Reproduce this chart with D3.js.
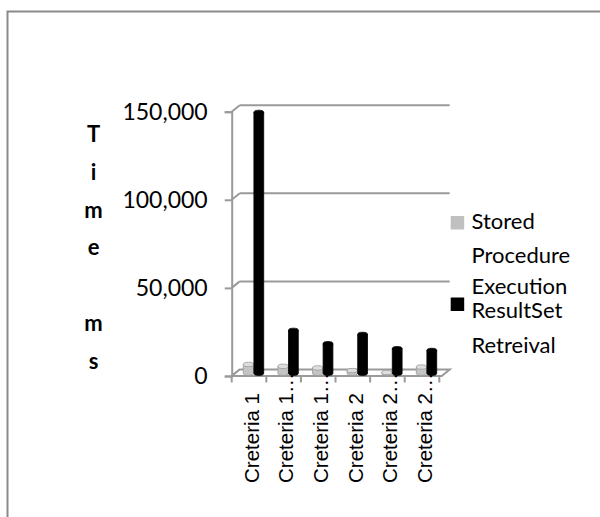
<!DOCTYPE html>
<html>
<head>
<meta charset="utf-8">
<script src="https://cdn.jsdelivr.net/npm/d3@7"></script>
<style>
  html, body { margin: 0; padding: 0; background: #fff; }
  svg { display: block; }
</style>
</head>
<body>
<svg id="chart" width="600" height="517"></svg>
<script>
// Query timing per criteria set (ms)
const categories = ["Creteria 1", "Creteria 1…", "Creteria 1…", "Creteria 2", "Creteria 2…", "Creteria 2…"];
const storedProcedure = [5000, 3900, 3000, 1500, 400, 3500];
const resultSetRetrieval = [148000, 24300, 16700, 22000, 13900, 12900];
const seriesNames = [["Stored", "Procedure", "Execution"], ["ResultSet", "Retreival"]];
const yTicks = [0, 50000, 100000, 150000];
const axisTitle = ["T", "i", "m", "e", "", "m", "s"];

const svg = d3.select("#chart");
const calibriLike = "Lato, 'Open Sans', sans-serif";
const gridColor = "#9a9a9a";

// outer frame (left and top edges)
svg.append("path")
  .attr("d", "M7.5,517V11.5H600")
  .attr("fill", "none").attr("stroke", "#8a8a8a").attr("stroke-width", 2);

// 3-D plot geometry
const x0 = 231.7, x1 = 439.3;
const depth = { dx: 8, dy: -6.5 };   // offset of back wall
const mid = { dx: 4, dy: -2.8 };     // offset of the bars' plane

const y = d3.scaleLinear().domain([0, 150000]).range([376, 111.7]);
const x = d3.scaleBand().domain(d3.range(categories.length)).range([x0, x1]).padding(0);
const bw = x.bandwidth();
const floorRight = x1 + 2.4;

// back-wall gridlines and side-wall connectors
yTicks.forEach(t => {
  const yy = y(t);
  if (t > 0) {
    svg.append("line")
      .attr("x1", x0 + depth.dx).attr("x2", floorRight + depth.dx)
      .attr("y1", yy + depth.dy).attr("y2", yy + depth.dy)
      .attr("stroke", gridColor).attr("stroke-width", 2);
  }
  svg.append("line")
    .attr("x1", x0).attr("y1", yy)
    .attr("x2", x0 + depth.dx).attr("y2", yy + depth.dy)
    .attr("stroke", gridColor).attr("stroke-width", 2);
});

// floor
svg.append("path")
  .attr("d", `M${x0},${y(0)}H${floorRight}L${floorRight + depth.dx},${y(0) + depth.dy}H${x0 + depth.dx}Z`)
  .attr("fill", "#fff").attr("stroke", gridColor).attr("stroke-width", 2);

// value axis
const yAxis = d3.axisLeft(y)
  .tickValues(yTicks)
  .tickFormat(d3.format(","))
  .tickSize(7)
  .tickPadding(17);
const gy = svg.append("g").attr("transform", `translate(${x0},0)`).call(yAxis);
gy.select(".domain").attr("stroke", gridColor).attr("stroke-width", 2);
gy.selectAll(".tick line").attr("stroke", gridColor).attr("stroke-width", 2);
gy.selectAll(".tick text")
  .attr("font-family", calibriLike).attr("font-size", 23).attr("fill", "#000");

// category ticks
const catTicks = d3.range(categories.length + 1).map(i => x0 + i * bw);
svg.append("g").selectAll("line").data(catTicks).join("line")
  .attr("x1", d => d).attr("x2", d => d)
  .attr("y1", y(0)).attr("y2", y(0) + 6.5)
  .attr("stroke", gridColor).attr("stroke-width", 2);

// cylinder columns
function cylinders(values, offset, width, body, top, edge) {
  const g = svg.append("g");
  const ry = 2.2;
  const base = y(0) + mid.dy;
  values.forEach((v, i) => {
    const left = x(i) + offset;
    const cx = left + width / 2;
    const ty = y(v) + mid.dy;
    g.append("path")
      .attr("d", `M${left},${ty}V${base}A${width / 2},${ry} 0 0 0 ${left + width},${base}V${ty}Z`)
      .attr("fill", body).attr("stroke", edge).attr("stroke-width", 0.8);
    g.append("ellipse")
      .attr("cx", cx).attr("cy", ty).attr("rx", width / 2).attr("ry", ry)
      .attr("fill", top).attr("stroke", edge).attr("stroke-width", 0.8);
  });
}
cylinders(storedProcedure, 11.6, 10.4, "#c4c4c4", "#dedede", "#9a9a9a");
cylinders(resultSetRetrieval, 22.2, 9.8, "#000", "#000", "#000");

// category labels (rotated)
svg.append("g").selectAll("text").data(categories).join("text")
  .attr("transform", (d, i) => `translate(${x(i) + bw / 2 + 9.8},483) rotate(-90)`)
  .attr("font-family", "'Liberation Sans', Arial, sans-serif")
  .attr("font-size", 20.5)
  .attr("fill", "#000")
  .text(d => d);

// axis title, one letter per line
svg.append("g").selectAll("text").data(axisTitle).join("text")
  .attr("x", 93.5)
  .attr("y", (d, i) => 141.7 + i * 37.9)
  .attr("text-anchor", "middle")
  .attr("font-family", calibriLike).attr("font-weight", "bold").attr("font-size", 22)
  .attr("fill", "#000")
  .text(d => d);

// legend
const legendColors = ["#c0c0c0", "#000"];
const legendSquares = [216, 297.5];
const legendLines = [[229.3, 262.7, 294], [318.3, 353.3]];
seriesNames.forEach((lines, k) => {
  svg.append("rect")
    .attr("x", 450.7).attr("y", legendSquares[k])
    .attr("width", 13.5).attr("height", 13.5)
    .attr("fill", legendColors[k]);
  lines.forEach((t, j) => {
    svg.append("text")
      .attr("x", 471.5).attr("y", legendLines[k][j])
      .attr("font-family", calibriLike).attr("font-size", 22)
      .attr("fill", "#000")
      .text(t);
  });
});
</script>
</body>
</html>
